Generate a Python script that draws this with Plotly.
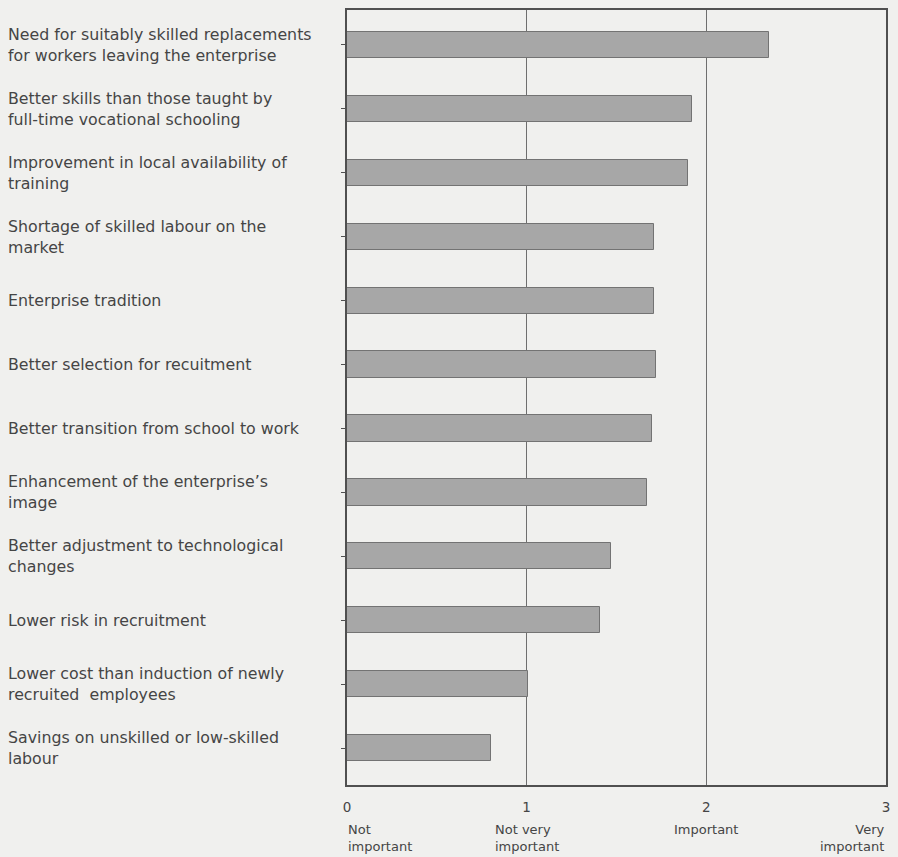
import plotly.graph_objects as go

categories = [
    "Need for suitably skilled replacements<br>for workers leaving the enterprise",
    "Better skills than those taught by<br>full-time vocational schooling",
    "Improvement in local availability of<br>training",
    "Shortage of skilled labour on the<br>market",
    "Enterprise tradition",
    "Better selection for recuitment",
    "Better transition from school to work",
    "Enhancement of the enterprise\u2019s<br>image",
    "Better adjustment to technological<br>changes",
    "Lower risk in recruitment",
    "Lower cost than induction of newly<br>recruited  employees",
    "Savings on unskilled or low-skilled<br>labour",
]
values = [2.35, 1.92, 1.90, 1.71, 1.71, 1.72, 1.70, 1.67, 1.47, 1.41, 1.01, 0.80]
tick_values = [0, 1, 2, 3]
tick_numbers = ["0", "1", "2", "3"]
scale_labels = ["Not<br>important", "Not very<br>important", "Important", "Very<br>important"]

positions = list(range(len(categories)))
font_family = "DejaVu Sans, Verdana, sans-serif"
text_color = "#454545"
bg = "#f0f0ee"

fig = go.Figure()
fig.add_trace(go.Bar(
    x=values,
    y=positions,
    orientation="h",
    width=0.41,
    marker=dict(color="#a7a7a7", line=dict(color="#737373", width=1)),
    hoverinfo="x",
))

W, H = 898, 857
ml, mr, mt, mb = 347, 10, 8, 72
plot_w = W - ml - mr

for p, lab in zip(positions, categories):
    fig.add_annotation(
        x=(7 - ml) / plot_w, xref="paper", y=p, yref="y", xshift=-1,
        text=lab, showarrow=False, xanchor="left", yanchor="middle", align="left",
        borderpad=0,
        font=dict(family=font_family, size=15.8, color=text_color),
    )

anchors = ["left", "center", "center", "right"]
aligns = ["left", "left", "center", "right"]
for tv, lab, xa, al in zip(tick_values, scale_labels, anchors, aligns):
    fig.add_annotation(
        x=tv, xref="x", y=0, yref="paper", yshift=-36,
        text=lab, showarrow=False, xanchor=xa, yanchor="top", align=al,
        borderpad=0,
        font=dict(family=font_family, size=13, color=text_color),
    )

fig.update_layout(
    width=W, height=H,
    margin=dict(l=ml, r=mr, t=mt, b=mb),
    paper_bgcolor=bg,
    plot_bgcolor=bg,
    showlegend=False,
    bargap=0,
    font=dict(family=font_family, size=14, color=text_color),
)
fig.update_xaxes(
    range=[0, 3], tickvals=tick_values, ticktext=tick_numbers,
    showgrid=True, gridcolor="#6e6e6e", gridwidth=1,
    showline=True, linecolor="#505050", linewidth=1.5, mirror=True,
    ticks="", zeroline=False, ticklabelstandoff=9,
    tickfont=dict(family=font_family, size=13.5, color=text_color),
)
fig.update_yaxes(
    range=[11.577, -0.546], tickvals=positions, showticklabels=False,
    ticks="outside", ticklen=4, tickcolor="#505050",
    showgrid=False, zeroline=False,
    showline=True, linecolor="#505050", linewidth=1.5, mirror=True,
)

fig.write_html(
    "out.html",
    config={"displayModeBar": False},
    post_script="document.body.style.margin='0';document.body.style.overflow='hidden';"
                "document.body.style.background='" + bg + "';",
)
